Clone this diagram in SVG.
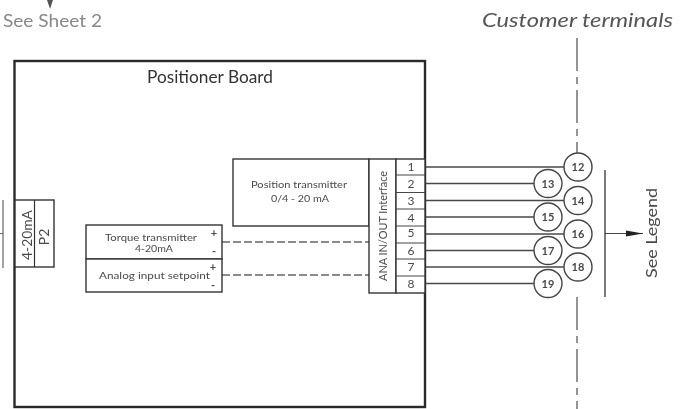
<svg xmlns="http://www.w3.org/2000/svg" width="689" height="409" viewBox="0 0 689 409">
<style>
text{font-family:"Lato","Liberation Sans",sans-serif;font-weight:400;fill:#4a4a4a;text-anchor:middle}
.b{fill:#fff;stroke:#333;stroke-width:1.4}
.w{fill:none;stroke:#4a4a4a;stroke-width:1.6}
.d{fill:none;stroke:#666;stroke-width:1.5;stroke-dasharray:8 3}
.c{fill:none;stroke:#666;stroke-width:1.4;stroke-dasharray:33 6 7 6}
.n{fill:#fff;stroke:#444;stroke-width:1.4}
.t{font-size:10px}
.s{font-size:12px}
.k{font-size:11px;font-weight:700}
</style>
<defs><marker id="ah" markerWidth="18" markerHeight="8" refX="17" refY="4" orient="auto" markerUnits="userSpaceOnUse"><path d="M0 1L17 4L0 7Z" fill="#222"/></marker>
<filter id="soft" x="0" y="0" width="100%" height="100%"><feGaussianBlur stdDeviation="0.35"/></filter></defs>
<g filter="url(#soft)">
<rect width="689" height="409" fill="#fff"/>
<g id="sheet2"><path d="M47 0H53L50 9Z" fill="#555"/><text x="52.500" y="27" font-size="16.500" textLength="99" lengthAdjust="spacingAndGlyphs" style="fill:#888">See Sheet 2</text></g>
<g id="customer"><text x="577.500" y="27" font-size="18.500" font-style="italic" textLength="191" lengthAdjust="spacingAndGlyphs" style="fill:#555">Customer terminals</text></g>
<g id="board"><rect x="14.500" y="61" width="410.500" height="346" fill="#fff" stroke="#2a2a2a" stroke-width="2.400"/><text x="210" y="83" font-size="17.500" textLength="126" lengthAdjust="spacingAndGlyphs" style="fill:#333">Positioner Board</text></g>
<g id="connectors">
<path class="c" d="M577 38V153"/><path class="c" d="M577 297V409"/>
<path class="d" d="M222 242H369"/><path class="d" d="M222 275H369"/>
<path class="w" d="M425 167H564M425 183.500H534M425 200.500H564M425 217H534M425 234H564M425 250.500H534M425 267H564M425 283.500H534"/>
<path d="M0 233.500H3" stroke="#666" stroke-width="1"/>
<path d="M605 233.500H643" stroke="#444" stroke-width="1.200" marker-end="url(#ah)"/>
</g>
<g id="p2"><path d="M3 200V268" stroke="#666" stroke-width="1.200"/><rect class="b" x="15" y="200" width="39" height="67"/><path d="M34.500 200V267" stroke="#333" stroke-width="1.200"/><text transform="translate(32 235) rotate(-90)" font-size="14" textLength="50" lengthAdjust="spacingAndGlyphs">4-20mA</text><text transform="translate(49 237) rotate(-90)" font-size="14">P2</text></g>
<g id="torque"><rect class="b" x="86" y="225" width="136" height="34"/><text class="t" x="151" y="241" textLength="92" lengthAdjust="spacingAndGlyphs">Torque transmitter</text><text class="t" x="154" y="252" textLength="38" lengthAdjust="spacingAndGlyphs">4-20mA</text><text class="k" x="214" y="237">+</text><text class="k" x="214" y="255">-</text></g>
<g id="setpoint"><rect class="b" x="86" y="259" width="136" height="33"/><text class="t" x="154.500" y="279" textLength="111" lengthAdjust="spacingAndGlyphs">Analog input setpoint</text><text class="k" x="213" y="271">+</text><text class="k" x="213" y="289">-</text></g>
<g id="position"><rect class="b" x="233" y="159" width="136" height="67"/><text class="t" x="299" y="188" textLength="96" lengthAdjust="spacingAndGlyphs">Position transmitter</text><text class="t" x="300" y="202" textLength="58" lengthAdjust="spacingAndGlyphs">0/4 - 20 mA</text></g>
<g id="ana"><rect class="b" x="369" y="159" width="27" height="134"/><text transform="translate(387 226) rotate(-90)" font-size="11" textLength="110" lengthAdjust="spacingAndGlyphs">ANA IN/OUT Interface</text></g>
<g id="terminals"><rect class="b" x="396" y="159" width="29" height="134"/><path d="M396 175H425M396 192.500H425M396 209H425M396 226H425M396 243H425M396 259H425M396 276H425" stroke="#444" stroke-width="1.200"/>
<text class="s" x="411" y="171">1</text><text class="s" x="411" y="188">2</text><text class="s" x="411" y="205">3</text><text class="s" x="411" y="222">4</text><text class="s" x="411" y="237">5</text><text class="s" x="411" y="255">6</text><text class="s" x="411" y="271">7</text><text class="s" x="411" y="288">8</text></g>
<g id="n12"><circle class="n" cx="578" cy="167" r="14"/><text class="k" x="578" y="171">12</text></g>
<g id="n13"><circle class="n" cx="548" cy="183.500" r="14"/><text class="k" x="548" y="187.500">13</text></g>
<g id="n14"><circle class="n" cx="578" cy="200.500" r="14"/><text class="k" x="578" y="204.500">14</text></g>
<g id="n15"><circle class="n" cx="548" cy="217" r="14"/><text class="k" x="548" y="221">15</text></g>
<g id="n16"><circle class="n" cx="578" cy="234" r="14"/><text class="k" x="578" y="238">16</text></g>
<g id="n17"><circle class="n" cx="548" cy="250.500" r="14"/><text class="k" x="548" y="254.500">17</text></g>
<g id="n18"><circle class="n" cx="578" cy="267" r="14"/><text class="k" x="578" y="271">18</text></g>
<g id="n19"><circle class="n" cx="548" cy="283.500" r="14"/><text class="k" x="548" y="287.500">19</text></g>
<g id="legend"><path d="M605 170V297" stroke="#333" stroke-width="1.300"/><text transform="translate(657 233) rotate(-90)" font-size="16" textLength="90" lengthAdjust="spacingAndGlyphs">See Legend</text></g>
</g>
</svg>
